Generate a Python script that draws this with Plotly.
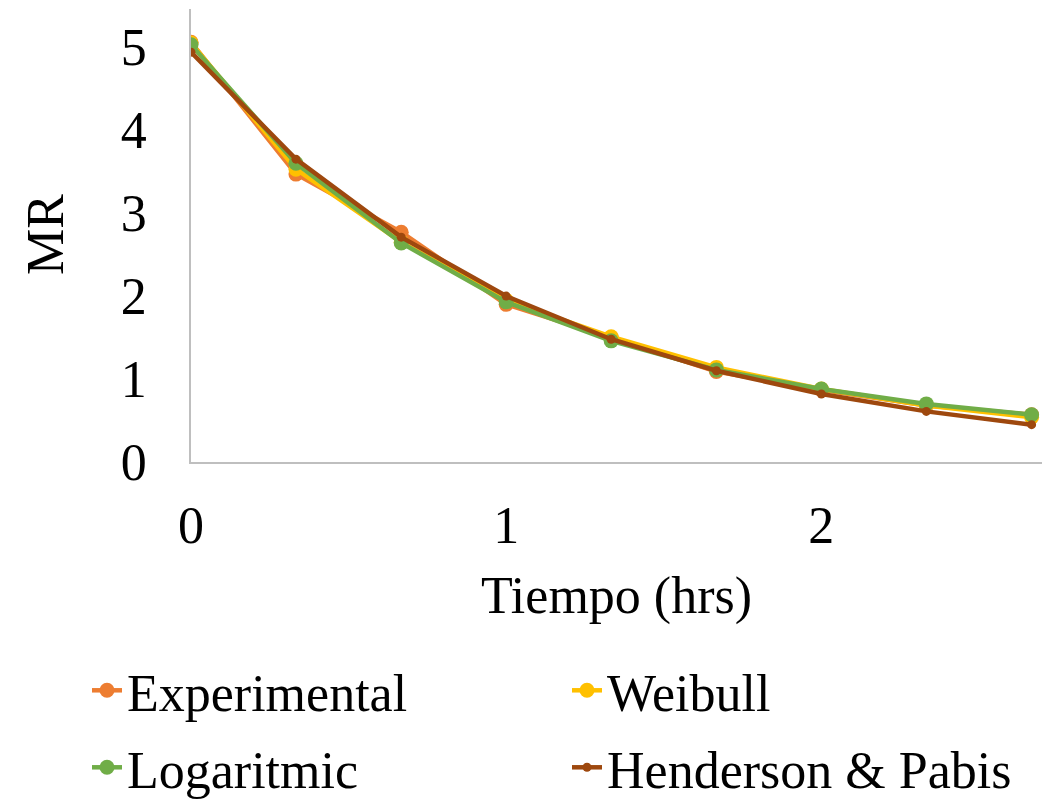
import plotly.graph_objects as go

tiempo = [0, 0.333, 0.667, 1, 1.333, 1.667, 2, 2.333, 2.667]
experimental = [5.06, 3.47, 2.77, 1.90, 1.50, 1.09, 0.87, 0.68, 0.57]
weibull = [5.05, 3.53, 2.65, 1.95, 1.51, 1.14, 0.88, 0.68, 0.54]
logaritmic = [5.03, 3.60, 2.64, 1.93, 1.46, 1.11, 0.88, 0.70, 0.57]
henderson = [4.94, 3.65, 2.71, 2.00, 1.48, 1.10, 0.82, 0.61, 0.45]

series = [
    ("Experimental", experimental, "#ED7D31", 15, "legend"),
    ("Weibull", weibull, "#FFC000", 15, "legend2"),
    ("Logaritmic", logaritmic, "#70AD47", 15, "legend3"),
    ("Henderson & Pabis", henderson, "#9E480E", 9, "legend4"),
]

FONT = "Liberation Serif, Times New Roman, serif"
W, H = 1054, 799
ML, MR_, MT, MB = 191, 12, 9, 337
PW, PH = W - ML - MR_, H - MT - MB

fig = go.Figure()
for name, ys, color, msize, lg in series:
    fig.add_trace(go.Scatter(
        x=tiempo, y=ys, name=name, mode="lines+markers",
        line=dict(color=color, width=4.5),
        marker=dict(color=color, size=msize),
        legend=lg,
    ))


def legend_at(left_px, top_px):
    return dict(
        xref="container", yref="container",
        x=left_px / W, y=1 - top_px / H, xanchor="left", yanchor="top",
        font=dict(family=FONT, size=52, color="black"),
        bgcolor="rgba(0,0,0,0)", itemwidth=30,
    )


fig.add_annotation(
    text="MR", textangle=-90, showarrow=False,
    xref="paper", yref="paper",
    x=(45 - ML) / PW, y=(MT + PH - 235) / PH,
    xanchor="center", yanchor="middle",
    font=dict(family=FONT, size=52, color="black"),
)

fig.update_layout(
    width=W, height=H,
    margin=dict(l=ML, r=MR_, t=MT, b=MB, autoexpand=False),
    paper_bgcolor="white", plot_bgcolor="white",
    font=dict(family=FONT, size=52, color="black"),
    showlegend=True,
    legend=legend_at(87, 650),
    legend2=legend_at(567, 650),
    legend3=legend_at(87, 727),
    legend4=legend_at(567, 727),
    xaxis=dict(
        range=[0, 2.70], tickvals=[0, 1, 2], ticktext=["0", "1", "2"],
        showgrid=False, zeroline=False, showline=True,
        linecolor="#BFBFBF", linewidth=1.5, ticks="",
        ticklabelstandoff=17, automargin=False,
        title=dict(text="Tiempo (hrs)", font=dict(size=52), standoff=23),
    ),
    yaxis=dict(
        range=[0, 5.46], tickvals=[0, 1, 2, 3, 4, 5],
        showgrid=False, zeroline=False, showline=True,
        linecolor="#BFBFBF", linewidth=1.5, ticks="",
        ticklabelstandoff=32, automargin=False,
    ),
)

fig.write_html("out.html")
